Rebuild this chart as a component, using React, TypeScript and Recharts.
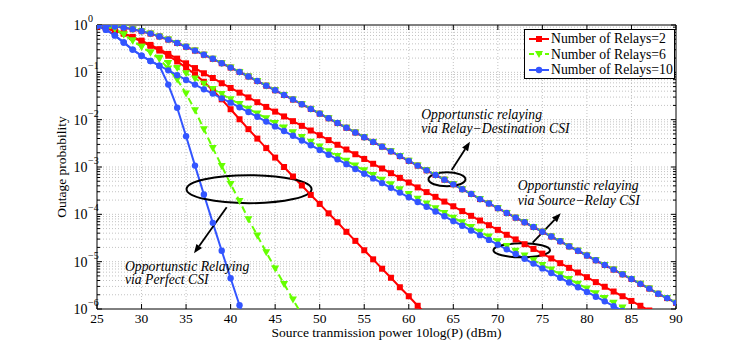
import React from "react";
import {
  LineChart,
  Line,
  XAxis,
  YAxis,
  ReferenceLine,
  ReferenceDot,
  ReferenceArea,
  Legend,
  Customized,
} from "recharts";

const W = 747;
const H = 347;
const SERIF = '"Liberation Serif", "Times New Roman", Times, serif';
const RED = "#ff0000";
const GREEN = "#66ff00";
const BLUE = "#3355ff";

// source transmission power 10log(P) in dBm, one point per dB
const power = [
  25, 26, 27, 28, 29, 30, 31, 32, 33, 34,
  35, 36, 37, 38, 39, 40, 41, 42, 43, 44,
  45, 46, 47, 48, 49, 50, 51, 52, 53, 54,
  55, 56, 57, 58, 59, 60, 61, 62, 63, 64,
  65, 66, 67, 68, 69, 70, 71, 72, 73, 74,
  75, 76, 77, 78, 79, 80, 81, 82, 83, 84,
  85, 86, 87, 88, 89, 90,
];
const xTicks = [25, 30, 35, 40, 45, 50, 55, 60, 65, 70, 75, 80, 85, 90];
const yTicks = [1e-6, 1e-5, 1e-4, 1e-3, 1e-2, 1e-1, 1];
const relayNames = ["Number of Relays=2", "Number of Relays=6", "Number of Relays=10"];

// relay-destination CSI: the three relay counts give the same curve
const rdCsi = [
  0.986, 0.966, 0.932, 0.882, 0.817, 0.741, 0.658, 0.573, 0.492, 0.416,
  0.347, 0.288, 0.236, 0.193, 0.156, 0.126, 0.102, 0.0817, 0.0654, 0.0523,
  0.0418, 0.0333, 0.0266, 0.0212, 0.0169, 0.0134, 0.0107, 8.48e-3, 6.74e-3, 5.36e-3,
  4.26e-3, 3.39e-3, 2.69e-3, 2.14e-3, 1.7e-3, 1.35e-3, 1.07e-3, 8.5e-4, 6.8e-4, 5.4e-4,
  4.3e-4, 3.4e-4, 2.7e-4, 2.1e-4, 1.7e-4, 1.35e-4, 1.07e-4, 8.5e-5, 6.8e-5, 5.4e-5,
  4.3e-5, 3.4e-5, 2.7e-5, 2.1e-5, 1.7e-5, 1.35e-5, 1.07e-5, 8.5e-6, 6.8e-6, 5.4e-6,
  4.3e-6, 3.4e-6, 2.7e-6, 2.1e-6, 1.7e-6, 1.35e-6,
];

// source-relay CSI
const srCsi2 = [
  0.933, 0.851, 0.759, 0.661, 0.562, 0.468, 0.38, 0.309, 0.245, 0.195,
  0.155, 0.123, 0.0955, 0.0759, 0.0589, 0.0468, 0.0372, 0.0295, 0.0234, 0.0186,
  0.0148, 0.0117, 9.3e-3, 7.4e-3, 5.9e-3, 4.7e-3, 3.7e-3, 2.95e-3, 2.34e-3, 1.86e-3,
  1.48e-3, 1.17e-3, 9.3e-4, 7.4e-4, 5.9e-4, 4.7e-4, 3.7e-4, 2.95e-4, 2.34e-4, 1.86e-4,
  1.48e-4, 1.17e-4, 9.3e-5, 7.4e-5, 5.9e-5, 4.7e-5, 3.7e-5, 2.95e-5, 2.34e-5, 1.86e-5,
  1.48e-5, 1.17e-5, 9.3e-6, 7.4e-6, 5.9e-6, 4.7e-6, 3.7e-6, 2.95e-6, 2.34e-6, 1.86e-6,
  1.48e-6, 1.17e-6, 9.3e-7,
];
const srCsi6 = [
  0.977, 0.933, 0.832, 0.631, 0.468, 0.347, 0.263, 0.204, 0.158, 0.123,
  0.0955, 0.0741, 0.0575, 0.0447, 0.0347, 0.0269, 0.0214, 0.017, 0.0135, 0.0107,
  8.5e-3, 6.8e-3, 5.4e-3, 4.3e-3, 3.4e-3, 2.7e-3, 2.14e-3, 1.7e-3, 1.35e-3, 1.07e-3,
  8.5e-4, 6.8e-4, 5.4e-4, 4.3e-4, 3.4e-4, 2.7e-4, 2.14e-4, 1.7e-4, 1.35e-4, 1.07e-4,
  8.5e-5, 6.8e-5, 5.4e-5, 4.3e-5, 3.4e-5, 2.7e-5, 2.14e-5, 1.7e-5, 1.35e-5, 1.07e-5,
  8.5e-6, 6.8e-6, 5.4e-6, 4.3e-6, 3.4e-6, 2.7e-6, 2.14e-6, 1.7e-6, 1.35e-6, 1.07e-6,
  8.5e-7,
];
const srCsi10 = [
  0.955, 0.794, 0.603, 0.427, 0.302, 0.224, 0.174, 0.138, 0.11, 0.0871,
  0.0692, 0.055, 0.0437, 0.0355, 0.0282, 0.0229, 0.0182, 0.0145, 0.0115, 9.1e-3,
  7.2e-3, 5.75e-3, 4.57e-3, 3.63e-3, 2.88e-3, 2.29e-3, 1.82e-3, 1.45e-3, 1.15e-3, 9.1e-4,
  7.2e-4, 5.75e-4, 4.57e-4, 3.63e-4, 2.88e-4, 2.29e-4, 1.82e-4, 1.45e-4, 1.15e-4, 9.1e-5,
  7.2e-5, 5.75e-5, 4.57e-5, 3.63e-5, 2.88e-5, 2.29e-5, 1.82e-5, 1.45e-5, 1.15e-5, 9.1e-6,
  7.2e-6, 5.75e-6, 4.57e-6, 3.63e-6, 2.88e-6, 2.29e-6, 1.82e-6, 1.45e-6, 1.15e-6, 9.1e-7,
];

// perfect CSI
const pfCsi2 = [
  0.933, 0.851, 0.759, 0.661, 0.55, 0.447, 0.363, 0.288, 0.224, 0.17,
  0.126, 0.0912, 0.0631, 0.0417, 0.0269, 0.0166, 0.0102, 6.3e-3, 3.98e-3, 2.51e-3,
  1.58e-3, 1.0e-3, 6.3e-4, 4.07e-4, 2.57e-4, 1.66e-4, 1.05e-4, 6.8e-5, 4.27e-5, 2.75e-5,
  1.74e-5, 1.12e-5, 7.1e-6, 4.57e-6, 2.88e-6, 1.86e-6, 1.17e-6, 7.6e-7,
];
const pfCsi6 = [
  0.977, 0.933, 0.832, 0.631, 0.468, 0.347, 0.263, 0.191, 0.12, 0.0708,
  0.0355, 0.0158, 6.3e-3, 2.51e-3, 1.05e-3, 4.37e-4, 1.91e-4, 7.9e-5, 3.55e-5, 1.58e-5,
  7.2e-6, 3.39e-6, 1.58e-6, 7.6e-7,
];
const pfCsi10 = [
  0.955, 0.794, 0.603, 0.427, 0.302, 0.224, 0.174, 0.138, 0.055, 0.0178,
  4.47e-3, 1.07e-3, 2.63e-4, 6.6e-5, 1.7e-5, 4.47e-6, 1.2e-6, 3.3e-7,
];

const rows = power.map((x, i) => ({
  x,
  rd2: rdCsi[i],
  rd6: rdCsi[i],
  rd10: rdCsi[i],
  sr2: srCsi2[i] ?? null,
  sr6: srCsi6[i] ?? null,
  sr10: srCsi10[i] ?? null,
  pf2: pfCsi2[i] ?? null,
  pf6: pfCsi6[i] ?? null,
  pf10: pfCsi10[i] ?? null,
}));

const square = (c: string) => (p: any) =>
  p.cx == null || p.cy == null ? (
    <g key={`s${p.index}`} />
  ) : (
    <rect key={`s${p.index}`} x={p.cx - 3} y={p.cy - 3} width={6} height={6} fill={c} />
  );
const triangle = (c: string) => (p: any) =>
  p.cx == null || p.cy == null ? (
    <g key={`t${p.index}`} />
  ) : (
    <polygon
      key={`t${p.index}`}
      points={`${p.cx - 4},${p.cy - 3} ${p.cx + 4},${p.cy - 3} ${p.cx},${p.cy + 4}`}
      fill={c}
    />
  );
const circle = (c: string) => (p: any) =>
  p.cx == null || p.cy == null ? (
    <g key={`c${p.index}`} />
  ) : (
    <circle key={`c${p.index}`} cx={p.cx} cy={p.cy} r={3.2} fill={c} />
  );

const series = [
  { key: "pf2", color: RED, dot: square(RED), dash: undefined },
  { key: "sr2", color: RED, dot: square(RED), dash: undefined },
  { key: "rd2", color: RED, dot: square(RED), dash: undefined },
  { key: "pf6", color: GREEN, dot: triangle(GREEN), dash: "7 4" },
  { key: "sr6", color: GREEN, dot: triangle(GREEN), dash: "7 4" },
  { key: "rd6", color: GREEN, dot: triangle(GREEN), dash: "7 4" },
  { key: "pf10", color: BLUE, dot: circle(BLUE), dash: undefined },
  { key: "sr10", color: BLUE, dot: circle(BLUE), dash: undefined },
  { key: "rd10", color: BLUE, dot: circle(BLUE), dash: undefined },
];

const minorY = yTicks
  .slice(0, -1)
  .flatMap((d) => [2, 3, 4, 5, 6, 7, 8, 9].map((k) => Number((k * d).toPrecision(3))));

const XTick = (p: any) => (
  <text x={p.x} y={p.y + 14} textAnchor="middle" fontFamily={SERIF} fontSize={13.5} fill="#000">
    {p.payload.value}
  </text>
);

const YTick = (p: any) => {
  const e = Math.round(Math.log10(p.payload.value));
  return (
    <g fontFamily={SERIF} fill="#000">
      <text x={p.x - 9.5} y={p.y + 5} textAnchor="end" fontSize={14}>
        10
      </text>
      <text x={p.x - 9} y={p.y - 3} fontSize={10}>
        {e === 0 ? "0" : "\u2212" + Math.abs(e)}
      </text>
    </g>
  );
};

const Arrow = (p: any) => {
  const { x1, y1, x2, y2 } = p;
  const a = Math.atan2(y2 - y1, x2 - x1);
  const L = 9;
  const w = 3.5;
  const bx = x2 - L * Math.cos(a);
  const by = y2 - L * Math.sin(a);
  const nx = -Math.sin(a) * w;
  const ny = Math.cos(a) * w;
  return (
    <g>
      <line x1={x1} y1={y1} x2={bx} y2={by} stroke="#000" strokeWidth={1.8} />
      <polygon points={`${x2},${y2} ${bx + nx},${by + ny} ${bx - nx},${by - ny}`} fill="#000" />
    </g>
  );
};

const ellipse = (rx: number, ry: number) => (p: any) => (
  <ellipse cx={p.cx} cy={p.cy} rx={rx} ry={ry} fill="none" stroke="#000" strokeWidth={2} />
);

const note = (lines: string[], gap: number) => (p: any) => (
  <text x={p.cx} y={p.cy} fontFamily={SERIF} fontStyle="italic" fontSize={13.7} fill="#000">
    {lines.map((l, i) => (
      <tspan key={i} x={p.cx} dy={i === 0 ? 0 : gap}>
        {l}
      </tspan>
    ))}
  </text>
);

const LegendBox = () => (
  <div
    style={{
      boxSizing: "border-box",
      width: 151,
      height: 50,
      border: "1px solid #000",
      background: "#fff",
      fontFamily: SERIF,
      fontSize: 13.7,
      padding: "1px 0 0 3px",
      lineHeight: "15.5px",
    }}
  >
    {relayNames.map((name, i) => {
      const c = [RED, GREEN, BLUE][i];
      return (
        <div key={name} style={{ display: "flex", alignItems: "center", height: 15.5 }}>
          <svg width={22} height={12} style={{ flex: "none" }}>
            <line
              x1={1}
              y1={6}
              x2={21}
              y2={6}
              stroke={c}
              strokeWidth={2}
              strokeDasharray={i === 1 ? "5 3" : undefined}
            />
            {i === 0 && <rect x={8} y={3} width={6} height={6} fill={c} />}
            {i === 1 && <polygon points="7,3 15,3 11,10" fill={c} />}
            {i === 2 && <circle cx={11} cy={6} r={3.2} fill={c} />}
          </svg>
          <span style={{ marginLeft: 1, whiteSpace: "nowrap" }}>{name}</span>
        </div>
      );
    })}
  </div>
);

const AxisTitles = () => (
  <g fontFamily={SERIF} fontSize={13.5} fill="#000">
    <text x={386.5} y={337} textAnchor="middle">
      Source tranmission power 10log(P) (dBm)
    </text>
    <text transform="translate(66,167) rotate(-90)" textAnchor="middle">
      Outage probability
    </text>
  </g>
);

const GRID = { stroke: "#b4b4b4", strokeDasharray: "1 2", strokeWidth: 0.8 };

export default function App() {
  return (
    <div style={{ position: "absolute", left: 0, top: 0, width: W, height: H, background: "#fff" }}>
      <LineChart width={W} height={H} data={rows} margin={{ top: 25, right: 71, bottom: 0, left: 0 }}>
        <XAxis
          dataKey="x"
          type="number"
          domain={[25, 90]}
          ticks={xTicks}
          interval={0}
          height={38}
          tickSize={0}
          tickMargin={0}
          axisLine={false}
          tickLine={false}
          tick={XTick}
          allowDataOverflow
        />
        <YAxis
          type="number"
          scale="log"
          domain={[1e-6, 1]}
          ticks={yTicks}
          interval={0}
          width={97}
          tickSize={0}
          tickMargin={0}
          axisLine={false}
          tickLine={false}
          tick={YTick}
          allowDataOverflow
        />

        {[...yTicks.slice(1, -1), ...minorY].map((v) => (
          <ReferenceLine key={`gy${v}`} y={v} {...GRID} zIndex={-10} />
        ))}
        {xTicks.slice(1, -1).map((v) => (
          <ReferenceLine key={`gx${v}`} x={v} {...GRID} zIndex={-10} />
        ))}

        {yTicks.map((v) => (
          <ReferenceLine key={`tl${v}`} segment={[{ x: 25, y: v }, { x: 25.56, y: v }]} stroke="#000" />
        ))}
        {yTicks.map((v) => (
          <ReferenceLine key={`tr${v}`} segment={[{ x: 89.44, y: v }, { x: 90, y: v }]} stroke="#000" />
        ))}
        {minorY.map((v) => (
          <ReferenceLine key={`ml${v}`} segment={[{ x: 25, y: v }, { x: 25.34, y: v }]} stroke="#000" />
        ))}
        {minorY.map((v) => (
          <ReferenceLine key={`mr${v}`} segment={[{ x: 89.66, y: v }, { x: 90, y: v }]} stroke="#000" />
        ))}
        {xTicks.map((v) => (
          <ReferenceLine key={`tb${v}`} segment={[{ x: v, y: 1e-6 }, { x: v, y: 1.276e-6 }]} stroke="#000" />
        ))}
        {xTicks.map((v) => (
          <ReferenceLine key={`tt${v}`} segment={[{ x: v, y: 1 }, { x: v, y: 0.784 }]} stroke="#000" />
        ))}

        {series.map((s) => (
          <Line
            key={s.key}
            dataKey={s.key}
            type="linear"
            stroke={s.color}
            strokeWidth={2}
            strokeDasharray={s.dash}
            dot={s.dot}
            activeDot={false}
            isAnimationActive={false}
            legendType="none"
          />
        ))}

        <ReferenceArea x1={25} x2={90} y1={1e-6} y2={1} fill="none" stroke="#000" strokeWidth={1} />

        <ReferenceDot x={42.07} y={3.4e-4} r={1} shape={ellipse(62.5, 14)} />
        <ReferenceDot x={64.29} y={5.5e-4} r={1} shape={ellipse(18.5, 7)} />
        <ReferenceDot x={72.68} y={1.74e-5} r={1} shape={ellipse(28.3, 7)} />

        <ReferenceLine segment={[{ x: 39.56, y: 1.41e-4 }, { x: 35.89, y: 1.5e-5 }]} shape={Arrow} />
        <ReferenceLine segment={[{ x: 64.82, y: 8.6e-4 }, { x: 66.87, y: 3.42e-3 }]} shape={Arrow} />
        <ReferenceLine segment={[{ x: 73.91, y: 2.54e-5 }, { x: 77.06, y: 1.05e-4 }]} shape={Arrow} />

        <ReferenceDot
          x={28.14}
          y={6.45e-6}
          r={1}
          shape={note(["Opportunstic Relaying", "via Perfect CSI"], 13.7)}
        />
        <ReferenceDot
          x={61.4}
          y={1.03e-2}
          r={1}
          shape={note(["Opportunstic relaying", "via Relay\u2212Destination CSI"], 14.3)}
        />
        <ReferenceDot
          x={72.23}
          y={3.34e-4}
          r={1}
          shape={note(["Opportunstic relaying", "via Source\u2212Relay CSI"], 15.5)}
        />

        <Legend
          verticalAlign="middle"
          align="center"
          layout="horizontal"
          wrapperStyle={{ left: 524, top: 29, width: 151, height: 50 }}
          content={() => <LegendBox />}
        />
        <Customized component={<AxisTitles />} />
      </LineChart>
    </div>
  );
}
